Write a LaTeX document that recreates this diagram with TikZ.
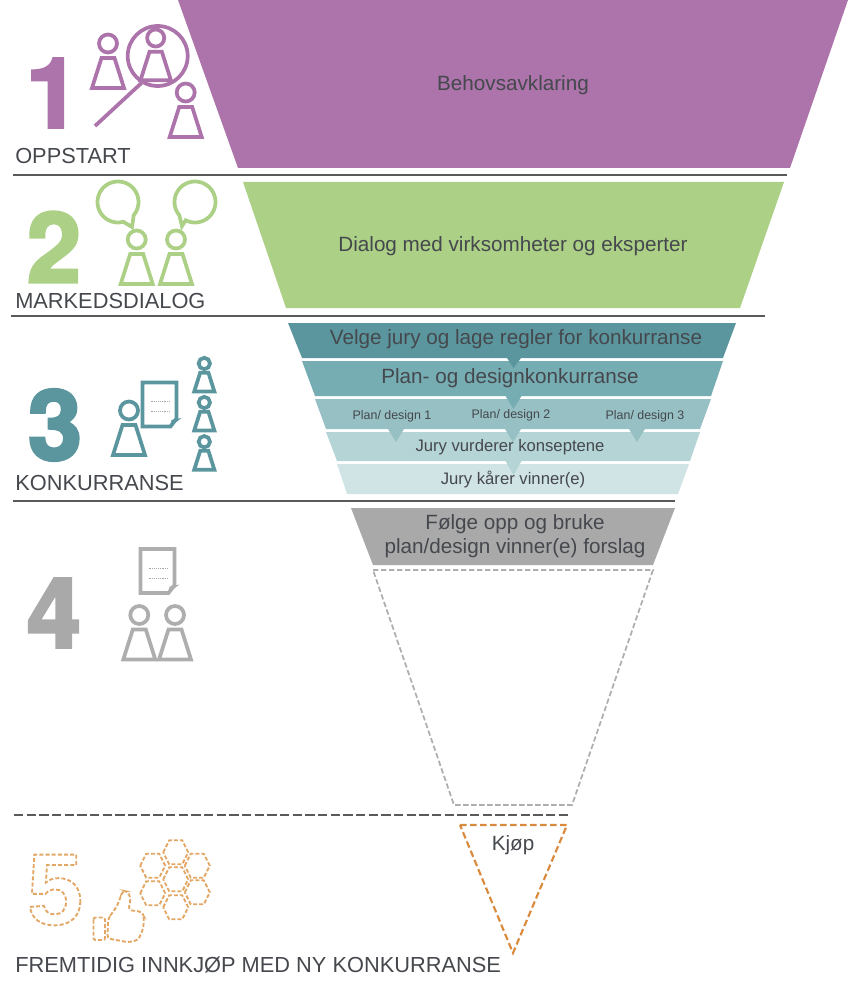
\documentclass[tikz,border=0pt]{standalone}
\usepackage{fontspec}
\usepackage{xcolor}
\setmainfont{Liberation Sans}
\newfontfamily\numfont[BoldFeatures={FakeBold=3}]{TeX Gyre Heros}
\definecolor{purp}{HTML}{AC74AA}
\definecolor{grn}{HTML}{ACD086}
\definecolor{teal1}{HTML}{5B969E}
\definecolor{teal2}{HTML}{76ADB3}
\definecolor{teal3}{HTML}{96C0C3}
\definecolor{teal4}{HTML}{B5D4D6}
\definecolor{teal5}{HTML}{D0E3E5}
\definecolor{gry}{HTML}{A9A9AA}
\definecolor{gryicon}{HTML}{AEAEAE}
\definecolor{orng}{HTML}{D98A3D}
\definecolor{ornglight}{HTML}{E3A765}
\definecolor{txtgray}{HTML}{45484D}
\definecolor{rulegray}{HTML}{5A5A5A}
\tikzset{
  lab/.style={font=\fontsize{15.5}{18}\selectfont, text=txtgray, inner sep=0pt, align=center},
  smalllab/.style={font=\fontsize{9.3}{11}\selectfont, text=txtgray, inner sep=0pt},
  midlab/.style={font=\fontsize{12.5}{15}\selectfont, text=txtgray, inner sep=0pt},
  phase/.style={font=\fontsize{16.35}{19}\selectfont, text=txtgray, inner sep=0pt, anchor=base west},
  bignum/.style={font=\fontsize{73}{78}\numfont\bfseries, inner sep=0pt},
  divider/.style={draw=rulegray, line width=1.6pt},
  pics/person/.style={code={
    \draw (0,0) circle [radius=9];
    \draw[line join=miter] (-6.5,14.5) -- (6.5,14.5) -- (16,44.5) -- (-16,44.5) -- cycle;
  }},
  pics/docicon/.style={code={
    \draw[line join=miter] (0,0) -- (34,0) -- (34,36) -- (28,44) -- (0,44) -- cycle;
    \fill (28,44) -- (29,37.5) -- (39,35.5) -- cycle;
    \draw[gray!70, line width=.4pt, densely dotted] (8,19) -- (27,19) (8,29) -- (27,29);
  }},
  pics/hexcell/.style={code={
    \draw (-12.5,0) -- (-6.5,-12) -- (6.5,-12) -- (12.5,0) -- (6.5,12) -- (-6.5,12) -- cycle;
  }}
}
\begin{document}
\begin{tikzpicture}[x=0.75pt, y=-0.75pt]
\useasboundingbox (0,0) rectangle (848,991);

% Funnel
\fill[purp] (178,0) -- (848,0) -- (790,168) -- (238,168) -- cycle;
\fill[grn] (243,182) -- (784,182) -- (740,308) -- (286,308) -- cycle;
\fill[teal1] (288,323) -- (736,323) -- (723,358) -- (302,358) -- cycle;
\fill[teal2] (302,361) -- (723,361) -- (711,396) -- (315,396) -- cycle;
\fill[teal3] (315,399) -- (711,399) -- (700,429) -- (326,429) -- cycle;
\fill[teal4] (326,432) -- (700,432) -- (690,461) -- (337,461) -- cycle;
\fill[teal5] (337,464) -- (689,464) -- (678,494) -- (347,494) -- cycle;
\fill[gry] (351,508) -- (675,508) -- (653,565) -- (373,565) -- cycle;
\draw[gryicon, line width=1.3pt, dash pattern=on 4pt off 2pt] (373,570) -- (653,570) -- (572,805) -- (454,805) -- cycle;
\draw[orng, line width=1.6pt, dash pattern=on 5pt off 2.5pt] (460,825) -- (567,825) -- (513,953) -- cycle;

% Small arrows between the steps
\fill[teal1] (507,358) -- (521,358) -- (513.5,368) -- cycle;
\fill[teal2] (505.5,396) -- (521.5,396) -- (513.5,409) -- cycle;
\foreach \ax in {396,513,637}
  \fill[teal3] (\ax-8,429) -- (\ax+8,429) -- (\ax,442) -- cycle;
\fill[teal4] (505.5,461) -- (521.5,461) -- (513.5,475) -- cycle;

% Funnel text
\node[lab] (behov) at (513,85.5) {Behovsavklaring};
\node[lab] (dialog) at (513,246.5) {Dialog med virksomheter og eksperter};
\node[lab] (velge) at (516,339) {Velge jury og lage regler for konkurranse};
\node[lab] (plan) at (510,378) {Plan- og designkonkurranse};
\node[smalllab] (plan1) at (392,416) {Plan/ design 1};
\node[smalllab] (plan2) at (511,415) {Plan/ design 2};
\node[smalllab] (plan3) at (645,416) {Plan/ design 3};
\node[midlab] (vurderer) at (510,447) {Jury vurderer konseptene};
\node[midlab] (kaarer) at (513,480) {Jury kårer vinner(e)};
\node[lab] (folge) at (515,536.5) {Følge opp og bruke\\plan/design vinner(e) forslag};
\node[lab] (kjop) at (513,845.5) {Kjøp};

% Dividers
\draw[divider] (13,175) -- (787,175);
\draw[divider] (11,316) -- (765,316);
\draw[divider] (13,501) -- (675,501);
\draw[divider, line width=2pt, dash pattern=on 7pt off 2.5pt] (14,815) -- (569,815);

% Phase labels
\node[phase] (oppstart) at (15,164) {OPPSTART};
\node[phase] (markeds) at (15,308) {MARKEDSDIALOG};
\node[phase] (konk) at (15,490) {KONKURRANSE};
\node[phase] (fremtid) at (15,972) {FREMTIDIG INNKJØP MED NY KONKURRANSE};

% Numbers
\node[bignum, text=purp] (num1) at (53,93) {1};
\node[bignum, text=grn] (num2) at (54,247) {2};
\node[bignum, text=teal1] (num3) at (55,425) {3};
\node[bignum, text=gry] (num4) at (54,613) {4};
\node[font=\fontsize{76}{80}\selectfont\bfseries, inner sep=0pt] (num5) at (55,890)
  {\special{pdf:code q 1 Tr 1.4 w [3 1.6] 0 d 0.89 0.655 0.396 RG}5\special{pdf:code Q}};

% Icons phase 1
\begin{scope}[purp, line width=2.8pt]
  \pic at (108,43.5) {person};
  \pic[scale=.95] at (155.7,38) {person};
  \pic at (185.7,92.5) {person};
  \draw (157.7,56) circle [radius=30];
  \draw (95,126) -- (141.5,83);
\end{scope}

% Icons phase 2
\begin{scope}[grn, line width=2.8pt]
  \draw plot[domain=75:400, samples=50] ({118+20.5*cos(\x)},{202+20.5*sin(\x)}) -- (132,227) -- cycle;
  \draw plot[domain=-220:117, samples=50] ({195+20.5*cos(\x)},{202+20.5*sin(\x)}) -- (182,226) -- cycle;
  \pic at (136.7,239.5) {person};
  \pic at (176,239.5) {person};
\end{scope}

% Icons phase 3
\begin{scope}[teal1, line width=2.8pt]
  \pic at (129,410.5) {person};
  \pic at (142.5,382.5) {docicon};
  \foreach \py in {363.5,402.5,441.7}
    \pic[scale=.63] at (204.3,\py) {person};
\end{scope}

% Icons phase 4
\begin{scope}[gryicon, line width=2.8pt]
  \pic at (140.5,549) {docicon};
  \pic at (139.3,615) {person};
  \pic at (175,615) {person};
\end{scope}

% Icons phase 5
\begin{scope}[ornglight, line width=1.4pt, dash pattern=on 3pt off 1.5pt]
  \foreach \hx/\hy in {175.7/852.3,152.7/865.7,197.3/865.7,175.7/879.3,152.7/893.3,197.3/892.3,175.7/907.3}
    \pic at (\hx,\hy) {hexcell};
  \draw[rounded corners=1.5pt] (93.5,917.5) rectangle (105,940);
  \draw[rounded corners=2.5pt] (108.3,918.3) -- (116.7,906.7) -- (120.7,896.7) -- (122.7,890.7) -- (128.3,891.7)
    -- (130.7,900) -- (128.3,910) -- (141.7,911.7) -- (144,916.7) -- (143.3,928.3) -- (138.3,940)
    -- (128.3,942.3) -- (107.3,938.3) -- cycle;
\end{scope}

\end{tikzpicture}
\end{document}
